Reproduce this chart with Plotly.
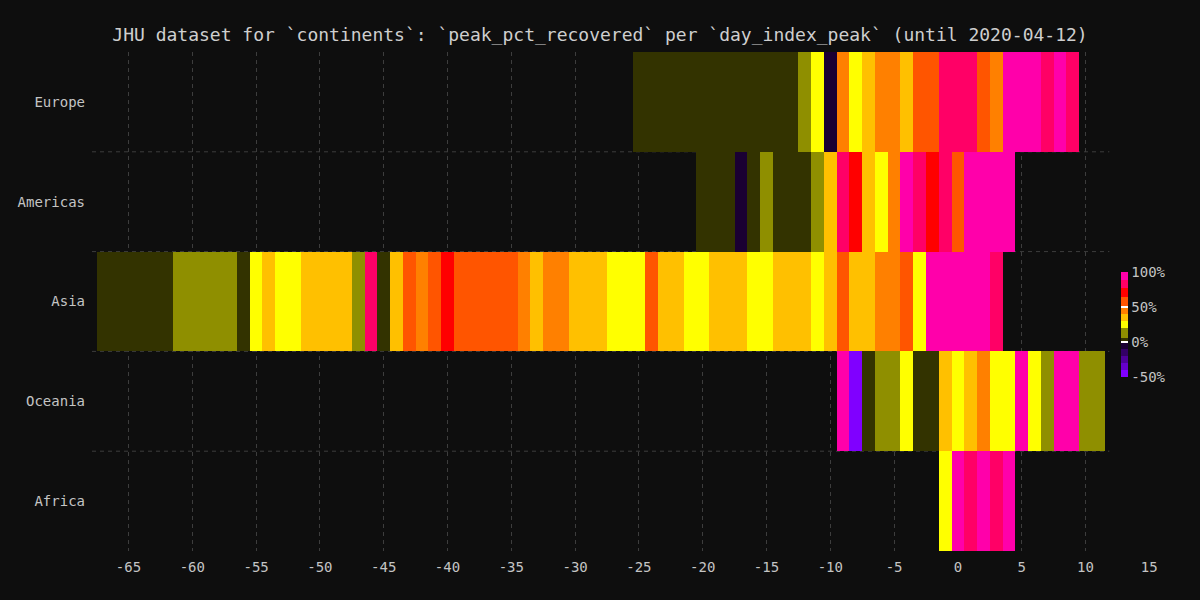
import plotly.graph_objects as go

# ---------------- data ----------------
continents = ["Europe", "Americas", "Asia", "Oceania", "Africa"]

europe_days = [-25, -24, -23, -22, -21, -20, -19, -18, -17, -16, -15, -14, -13, -12, -11, -10,
               -9, -8, -7, -6, -5, -4, -3, -2, -1, 0, 1, 2, 3, 4, 5, 6, 7, 8, 9]
europe_pct = [2, 2, 2, 2, 2, 2, 2, 2, 2, 2, 2, 2, 2, 12, 25, -5,
              45, 25, 35, 45, 45, 35, 57, 57, 82, 82, 82, 57, 45, 94, 94, 94, 82, 94, 82]

americas_days = [-20, -19, -18, -17, -16, -15, -14, -13, -12, -11, -10, -9, -8, -7, -6, -5,
                 -4, -3, -2, -1, 0, 1, 2, 3, 4]
americas_pct = [2, 2, 2, -5, 2, 12, 2, 2, 2, 12, 35, 82, 70, 35, 25, 45,
                94, 82, 70, 82, 57, 94, 94, 94, 94]

asia_days = [-67, -66, -65, -64, -63, -62, -61, -60, -59, -58, -57, -56, -55, -54, -53, -52,
             -51, -50, -49, -48, -47, -46, -45, -44, -43, -42, -41, -40, -39, -38, -37, -36,
             -35, -34, -33, -32, -31, -30, -29, -28, -27, -26, -25, -24, -23, -22, -21, -20,
             -19, -18, -17, -16, -15, -14, -13, -12, -11, -10, -9, -8, -7, -6, -5, -4,
             -3, -2, -1, 0, 1, 2, 3]
asia_pct = [2, 2, 2, 2, 2, 2, 12, 12, 12, 12, 12, 2, 25, 35, 25, 25,
            35, 35, 35, 35, 12, 82, 2, 35, 57, 45, 57, 70, 57, 57, 57, 57,
            57, 45, 35, 45, 45, 35, 35, 35, 25, 25, 25, 57, 35, 35, 25, 25,
            35, 35, 35, 25, 25, 35, 35, 35, 25, 35, 57, 35, 35, 45, 45, 57,
            25, 94, 94, 94, 94, 94, 82]

oceania_days = [-9, -8, -7, -6, -5, -4, -3, -2, -1, 0, 1, 2, 3, 4, 5, 6, 7, 8, 9, 10, 11]
oceania_pct = [94, -45, 2, 12, 12, 25, 2, 2, 35, 25, 35, 45, 25, 25, 94, 25, 12, 94, 94, 12, 12]

africa_days = [-1, 0, 1, 2, 3, 4]
africa_pct = [25, 94, 82, 94, 82, 94]

x_ticks = [-65, -60, -55, -50, -45, -40, -35, -30, -25, -20, -15, -10, -5, 0, 5, 10, 15]
cbar_ticks = [-50, 0, 50, 100]

# stepped colour scale (value bins in %)
bin_edges = [-50, -40, -30, -20, -10, 0, 5, 20, 30, 40, 50, 65, 77, 88, 100]
bin_colors = ["#8000ff", "#6600cc", "#4d0099", "#330066", "#1a0033",
              "#333300", "#8f8f00", "#ffff00", "#ffc000", "#ff8000",
              "#ff5500", "#ff0000", "#ff0066", "#ff00aa"]

# ---------------- figure ----------------
cmin, cmax = bin_edges[0], bin_edges[-1]
colorscale = []
for i, c in enumerate(bin_colors):
    a = (bin_edges[i] - cmin) / (cmax - cmin)
    b = (bin_edges[i + 1] - cmin) / (cmax - cmin)
    colorscale.append([a, c])
    colorscale.append([b, c])

rows = {
    "Europe": (europe_days, europe_pct),
    "Americas": (americas_days, americas_pct),
    "Asia": (asia_days, asia_pct),
    "Oceania": (oceania_days, oceania_pct),
    "Africa": (africa_days, africa_pct),
}

n = len(continents)
fig = go.Figure()
for i, name in enumerate(continents):
    days, pct = rows[name]
    base = n - 1 - i
    fig.add_trace(go.Bar(
        x=days, y=[1] * len(days), base=base, width=1,
        marker=dict(color=pct, coloraxis="coloraxis",
                    line=dict(width=0)),
        name=name, showlegend=False,
        hovertemplate=name + " day %{x}: %{marker.color}%<extra></extra>",
    ))

FONT = "DejaVu Sans Mono"
TXT = "#c4c4c4"
GRID = "#3d3d3d"
x_lo, x_hi = -67.86, 15.84
data_right = 11.87

for k in range(1, n):
    fig.add_shape(type="line", xref="x", yref="y", x0=x_lo, x1=data_right, y0=k, y1=k,
                  line=dict(color=GRID, width=1, dash="4px,4px"), layer="below")

fig.update_layout(
    width=1200, height=600,
    margin=dict(l=92, r=40, t=52, b=49),
    paper_bgcolor="#0e0e0e", plot_bgcolor="#0e0e0e",
    barmode="overlay", bargap=0,
    font=dict(family=FONT, size=14, color=TXT),
    title=dict(
        text="JHU dataset for `continents`: `peak_pct_recovered` per `day_index_peak` (until 2020-04-12)",
        font=dict(family=FONT, size=18, color="#cfcfcf"),
        x=0.5, xref="container", xanchor="center",
        y=1 - 35 / 600, yref="container", yanchor="middle",
    ),
    xaxis=dict(
        range=[x_lo, x_hi], tickmode="array", tickvals=x_ticks,
        ticktext=[str(v) for v in x_ticks],
        showgrid=False, zeroline=False, showline=False, ticks="",
        ticklabelstandoff=6,
        minor=dict(tickmode="array", tickvals=x_ticks[:-1], showgrid=True,
                   gridcolor=GRID, gridwidth=1, griddash="4px,4px", ticks=""),
        tickfont=dict(family=FONT, size=14, color=TXT),
    ),
    yaxis=dict(
        range=[0, n], tickmode="array",
        tickvals=[n - 1 - i + 0.5 for i in range(n)], ticktext=continents,
        showgrid=False, zeroline=False, showline=False, ticks="",
        ticklabelstandoff=6,
        tickfont=dict(family=FONT, size=14, color=TXT),
    ),
    coloraxis=dict(
        cmin=cmin, cmax=cmax, colorscale=colorscale,
        colorbar=dict(
            thickness=7, thicknessmode="pixels",
            len=105, lenmode="pixels",
            x=(1121 - 92) / (1160 - 92), xanchor="left", xref="paper",
            y=(551 - 324.5) / 499, yanchor="middle", yref="paper",
            xpad=0, ypad=0, outlinewidth=0,
            tickmode="array", tickvals=cbar_ticks,
            ticktext=[f"{v}%" for v in cbar_ticks],
            ticks="inside", ticklen=7, tickwidth=2, tickcolor="#ffffff",
            tickfont=dict(family=FONT, size=14, color=TXT),
        ),
    ),
)

fig.write_html("out.html")
